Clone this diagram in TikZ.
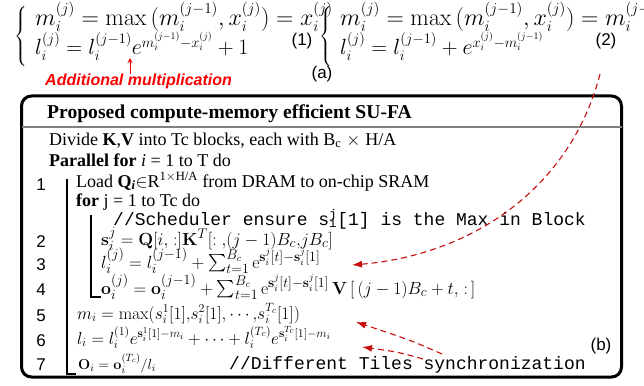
\documentclass[tikz,border=0pt]{standalone}
\usepackage{fix-cm}
\usepackage{amsmath}
\usepackage{graphicx}
\usepackage[no-math]{fontspec}
\setmainfont{Liberation Serif}
\setmonofont{Liberation Mono}
\newfontfamily\labelfont{Liberation Sans}
\usetikzlibrary{arrows.meta}
\definecolor{linkred}{RGB}{200,15,15}
\definecolor{notered}{RGB}{250,0,0}
% math sizes: {text size}{math}{script}{scriptscript}
\DeclareMathSizes{24}{24}{15.2}{10.5}
\DeclareMathSizes{22}{22}{14.5}{10}
\DeclareMathSizes{19}{17.6}{14}{9.5}
\DeclareMathSizes{18.5}{17.3}{12}{9}
\DeclareMathSizes{17.5}{17.4}{12}{9}
\DeclareMathSizes{15}{14.4}{10.5}{7.5}

\begin{document}
\begin{tikzpicture}[x=1pt,y=-1pt,
  eqtop/.style={anchor=base west,inner sep=0pt,font=\fontsize{24}{28}\selectfont},
  eqtext/.style={anchor=base west,inner sep=0pt,font=\fontsize{22}{26}\selectfont},
  brace/.style={anchor=base,inner sep=0pt,font=\fontsize{15}{18}\selectfont},
  body/.style={anchor=base west,inner sep=0pt,font=\fontsize{18}{21}\selectfont},
  mathrow/.style={anchor=base west,inner sep=0pt,font=\fontsize{19}{23}\selectfont},
  coderow/.style={anchor=base west,inner sep=0pt,font=\ttfamily\fontsize{18}{21}\selectfont},
  rownum/.style={anchor=base,inner sep=0pt,font=\labelfont\fontsize{17}{20}\selectfont},
  tag/.style={anchor=base,inner sep=0pt,font=\labelfont\fontsize{17}{20}\selectfont},
  redlink/.style={draw=linkred,line width=1.1pt,dash pattern=on 6pt off 4pt,
    -{Latex[length=10pt,width=7pt]}},
  bar/.style={line width=1.6pt}]
\useasboundingbox (0,0) rectangle (644,385);

% ---- equation (1)
\node[brace] (br1) at (21,40) {$\left\{\vrule height 29pt depth 29pt width 0pt\right.$};
\node[eqtop] (e1a) at (35,26) {$m_i^{(j)}=\max\,(m_i^{(j-1)},x_i^{(j)})=x_i^{(j)}$};
\node[eqtext] (e1b) at (35,55) {$l_i^{(j)}=l_i^{(j-1)}e^{m_i^{(j-1)}-x_i^{(j)}}+1$};
\node[tag] (t1) at (302,46) {(1)};

% ---- equation (2)
\node[brace] (br2) at (326,40) {$\left\{\vrule height 29pt depth 29pt width 0pt\right.$};
\node[eqtop] (e2a) at (340,26) {$m_i^{(j)}=\max\,(m_i^{(j-1)},x_i^{(j)})=m_i^{(j-1)}$};
\node[eqtext] (e2b) at (340,55) {$l_i^{(j)}=l_i^{(j-1)}+e^{x_i^{(j)}-m_i^{(j-1)}}$};
\node[tag] (t2) at (606,46) {(2)};

\node[tag] (ta) at (322,79) {(a)};

% ---- note on the extra multiplication
\node[anchor=base west,inner sep=0pt,text=notered,
      font=\labelfont\bfseries\itshape\fontsize{16}{19}\selectfont] (note) at (45,86)
      {Additional multiplication};
\coordinate (mulpt) at (130,58);
\draw[notered,line width=1pt,-{Stealth[length=5pt,width=5pt]}] (note.north -| mulpt) -- (mulpt);

% ---- algorithm box
\node[draw,line width=3pt,rounded corners=10pt,minimum width=600pt,minimum height=281pt,
      inner sep=0pt,outer sep=0pt] (algo) at (321.5,236.5) {};
\draw[gray,line width=1.5pt] (algo.west |- 0,127) -- (algo.east |- 0,127);
\node[anchor=base west,inner sep=0pt,font=\bfseries\fontsize{19.6}{23}\selectfont] (title) at (47,118)
      {Proposed compute-memory efficient SU-FA};

\node[body] (ldiv) at (49,145) {Divide \textbf{K},\textbf{V} into Tc blocks, each with B\textsubscript{c}\;$\times$\;H/A};
\node[body] (lpar) at (49,166) {\textbf{Parallel for} \textit{i} = 1 to T do};
\node[body] (l1) at (76,187) {Load \textbf{Q\textsubscript{\textit{i}}}$\in$R\textsuperscript{1$\times$H/A} from DRAM to on-chip SRAM};
\node[body] (lfor) at (76,206) {\textbf{for} j = 1 to Tc do};
\node[coderow] (lcom) at (113,225) {//Scheduler ensure s\makebox[0pt][l]{\textsuperscript{j}}\textsubscript{i}[1] is the Max in Block};
\node[mathrow] (l2) at (101,245) {$\mathbf{s}_i^j=\mathbf{Q}[i{,}:]\mathbf{K}^T[:{,}(j-1)B_c{,}jB_c]$};
\node[mathrow] (l3) at (101,268) {$l_i^{(j)}=l_i^{(j-1)}+\sum_{t=1}^{B_c}\mathrm{e}^{\mathbf{s}_i^j[t]-\mathbf{s}_i^j[1]}$};
\node[mathrow] (l4) at (101,294) {$\mathbf{o}_i^{(j)}=\mathbf{o}_i^{(j-1)}+\sum_{t=1}^{B_c}\mathrm{e}^{\mathbf{s}_i^j[t]-\mathbf{s}_i^j[1]}\,\mathbf{V}\,[\,(j-1)B_c+t{,}:\,]$};
\node[mathrow,font=\fontsize{17.5}{21}\selectfont] (l5) at (77,319) {$m_i=\max(s_i^1[1]{,}s_i^2[1],\cdots{,}s_i^{T_c}[1])$};
\node[mathrow,font=\fontsize{18.5}{22}\selectfont] (l6) at (77,344) {$l_i=l_i^{(1)}e^{\mathbf{s}_i^1[1]-m_i}+\cdots+l_i^{(T_c)}e^{\mathbf{s}_i^{T_c}[1]-m_i}$};
\node[mathrow,font=\fontsize{15}{18}\selectfont] (l7) at (78,369) {$\mathbf{O}_i=\mathbf{o}_i^{(T_c)}/l_i$};
\node[coderow] (lsync) at (229,369) {//Different Tiles synchronization};

% ---- row numbers
\node[rownum] (n1) at (41,190) {1};
\node[rownum] (n2) at (41,247) {2};
\node[rownum] (n3) at (41,270) {3};
\node[rownum] (n4) at (41,295) {4};
\node[rownum] (n5) at (41,321) {5};
\node[rownum] (n6) at (41,346) {6};
\node[rownum] (n7) at (41,370) {7};

\node[tag] (tb) at (601,350) {(b)};

% ---- loop bars
\draw[bar] (67,179) -- (67,374) -- (76,374);
\draw[bar] (91,215) -- (91,297) -- (101,297);

% ---- dashed links
\coordinate (srcA) at (600,74);
\coordinate (tgtA) at (352,265);
\coordinate (srcB) at (442,354);
\coordinate (tgtB) at (356,322);
\coordinate (srcC) at (423,359);
\coordinate (tgtC) at (362,347);
\draw[redlink] (srcA) .. controls (570,190) and (470,255) .. (tgtA);
\draw[redlink] (srcB) .. controls (410,340) .. (tgtB);
\draw[redlink] (srcC) .. controls (398,352) .. (tgtC);
\end{tikzpicture}
\end{document}
